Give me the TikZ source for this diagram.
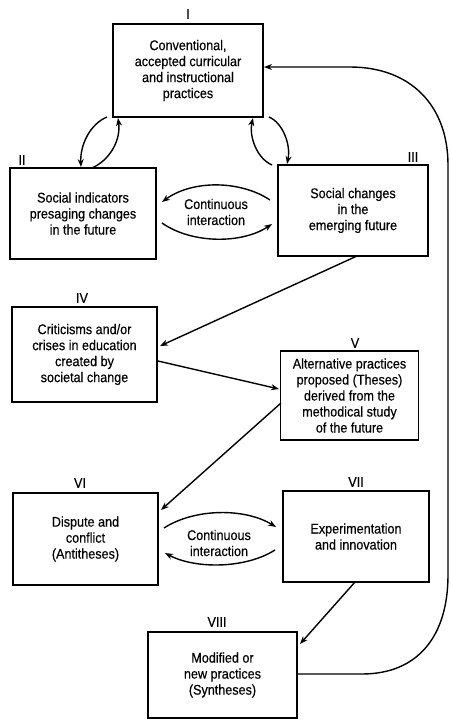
\documentclass[tikz,border=0pt]{standalone}
\usepackage{fontspec}
\setmainfont[FakeStretch=0.9,FakeBold=0.4]{Liberation Sans}
\usetikzlibrary{arrows.meta}
\begin{document}
\begin{tikzpicture}[x=1pt,y=-1pt,
  box/.style={draw, line width=1.5pt, align=center, inner sep=2pt,
    font=\fontsize{14}{16}\selectfont},
  numlabel/.style={font=\fontsize{14}{14}\selectfont, inner sep=0pt},
  midtext/.style={align=center, inner sep=0pt, font=\fontsize{14}{16}\selectfont},
  flow/.style={line width=1.4pt, -{Stealth[length=8pt,width=6pt]}}]
\useasboundingbox (0,0) rectangle (450,720);

% boxes
\node[box, minimum width=150pt, minimum height=93pt] (I) at (188,70.5)
  {Conventional,\\accepted curricular\\and instructional\\practices};
\node[box, minimum width=146pt, minimum height=91pt] (II) at (83,213.5)
  {Social indicators\\presaging changes\\in the future};
\node[box, minimum width=150pt, minimum height=91pt] (III) at (353,210.5)
  {Social changes\\in the\\emerging future};
\node[box, minimum width=145pt, minimum height=95pt] (IV) at (84.5,354.5)
  {Criticisms and/or\\crises in education\\created by\\societal change};
\node[box, minimum width=138pt, minimum height=89pt] (V) at (349.5,395.5)
  {Alternative practices\\proposed (Theses)\\derived from the\\methodical study\\of the future};
\node[box, minimum width=145pt, minimum height=92pt] (VI) at (85.5,539)
  {Dispute and\\conflict\\(Antitheses)};
\node[box, minimum width=146pt, minimum height=91pt] (VII) at (356,536.5)
  {Experimentation\\and innovation};
\node[box, minimum width=149pt, minimum height=86pt] (VIII) at (222.5,675)
  {Modified or\\new practices\\(Syntheses)};

% numerals
\node[numlabel] (nI) at (188,14) {I};
\node[numlabel] (nII) at (22,160) {II};
\node[numlabel] (nIII) at (413,157) {III};
\node[numlabel] (nIV) at (82,298) {IV};
\node[numlabel] (nV) at (355,343) {V};
\node[numlabel] (nVI) at (80,483) {VI};
\node[numlabel] (nVII) at (356,482) {VII};
\node[numlabel] (nVIII) at (217,622) {VIII};

% interaction captions
\node[midtext] (ci1) at (216,212) {Continuous\\interaction};
\node[midtext] (ci2) at (219,543) {Continuous\\interaction};

% end points on the box outlines
\coordinate (Ia) at (107,117);
\coordinate (Ib) at (118,118);
\coordinate (Ic) at (253,118);
\coordinate (Id) at (269,117);
\coordinate (IIa) at (81,167);
\coordinate (IIb) at (92,168);
\coordinate (IIc) at (162,202);
\coordinate (IId) at (162,223);
\coordinate (IIIa) at (272,165);
\coordinate (IIIb) at (287,164);
\coordinate (IIIc) at (270,200);
\coordinate (IIId) at (272,224);
\coordinate (IIIe) at (357,256);
\coordinate (IVa) at (160,346);
\coordinate (IVb) at (158,361);
\coordinate (Va) at (279,389);
\coordinate (Vb) at (281,403);
\coordinate (VIa) at (161,510);
\coordinate (VIb) at (164,528);
\coordinate (VIc) at (165,553);
\coordinate (VIIa) at (276,527);
\coordinate (VIIb) at (275,550);
\coordinate (VIIc) at (355,582);
\coordinate (VIIIa) at (300,644);
\coordinate (VIIIb) at (297,674);
\coordinate (Ie) at (264,67);

% loops between I and II, I and III
\draw[flow] (Ia) .. controls (90,124) and (80,145) .. (IIa);
\draw[flow] (IIb) .. controls (110,160) and (121,140) .. (Ib);
\draw[flow] (IIIa) .. controls (256,158) and (249,135) .. (Ic);
\draw[flow] (Id) .. controls (283,123) and (291,145) .. (IIIb);

% continuous interaction II <-> III
\draw[flow] (IIIc) .. controls (240,180) and (192,180) .. (IIc);
\draw[flow] (IId) .. controls (192,244) and (242,244) .. (IIId);

% main sequence
\draw[flow] (IIIe) -- (IVa);
\draw[flow] (IVb) -- (Va);
\draw[flow] (Vb) -- (VIa);

% continuous interaction VI <-> VII
\draw[flow] (VIb) .. controls (195,508) and (245,508) .. (VIIa);
\draw[flow] (VIIb) .. controls (245,569) and (195,569) .. (VIc);

% VII to VIII
\draw[flow] (VIIc) -- (VIIIa);

% feedback from VIII back to I
\draw[flow] (VIIIb) -- (362,674)
  .. controls (418,674) and (448,636) .. (448,575)
  -- (448,165)
  .. controls (448,105) and (410,67) .. (350,67)
  -- (Ie);
\end{tikzpicture}
\end{document}
